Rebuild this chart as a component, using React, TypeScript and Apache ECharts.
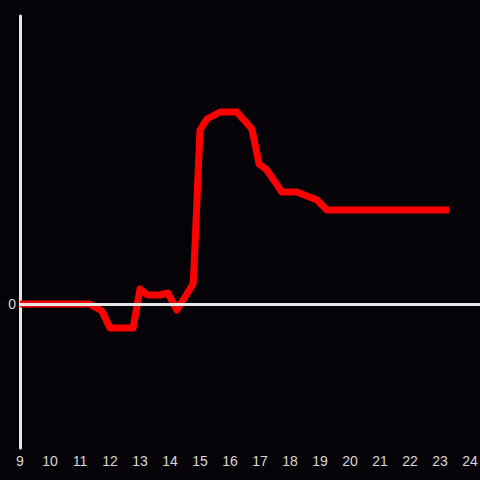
import React, { useEffect, useRef } from "react";
import * as echarts from "echarts";

const hours: number[] = [9, 11.33, 11.73, 12.0, 12.77, 13.0, 13.25, 13.67, 13.93, 14.23, 14.77, 14.8, 15.0, 15.23, 15.67, 16.23, 16.73, 16.97, 17.23, 17.73, 18.23, 18.9, 19.23, 23.3];
const values: number[] = [0, 0, -7, -24, -24, 15, 9, 9, 11, -6, 20, 36, 174, 185, 192, 192, 175, 140, 134, 112, 112, 104, 94, 94];
const xTickMin = 9;
const xTickMax = 24;

export default function App() {
  const ref = useRef<HTMLDivElement>(null);
  useEffect(() => {
    if (!ref.current) return;
    const chart = echarts.init(ref.current, null, { renderer: "svg" });
    chart.setOption({
      animation: false,
      backgroundColor: "#050307",
      grid: { left: 20, right: 0, top: 16, bottom: 32, outerBoundsMode: "none", containLabel: false },
      xAxis: {
        type: "value",
        min: xTickMin,
        max: xTickMax + 1 / 3,
        interval: 1,
        axisLine: { show: false },
        axisTick: { show: false },
        splitLine: { show: false },
        axisLabel: {
          color: "#d8d8d8",
          fontSize: 14,
          margin: 6,
          formatter: (v: number) => (Math.abs(v - Math.round(v)) < 1e-6 && v <= xTickMax ? String(Math.round(v)) : ""),
        },
      },
      yAxis: {
        type: "value",
        min: -144,
        max: 288,
        interval: 144,
        axisLine: { show: true, onZero: false, lineStyle: { color: "#e6e6e6", width: 3 } },
        axisTick: { show: false },
        splitLine: { show: false },
        axisLabel: {
          color: "#d8d8d8",
          fontSize: 14,
          margin: 4,
          formatter: (v: number) => (v === 0 ? "0" : ""),
        },
      },
      series: [
        {
          type: "line",
          z: 1,
          data: [],
          markLine: {
            silent: true,
            symbol: "none",
            label: { show: false },
            lineStyle: { color: "#e6e6e6", width: 3, type: "solid" },
            data: [{ yAxis: 0 }],
          },
        },
        {
          type: "line",
          z: 3,
          data: hours.map((h, i) => [h, values[i]]),
          showSymbol: false,
          lineStyle: { color: "#ff0000", width: 7, join: "round" },
          itemStyle: { color: "#ff0000" },
        },
      ],
    });
    return () => chart.dispose();
  }, []);
  return <div ref={ref} style={{ width: 480, height: 480, position: "absolute", left: 0, top: 0 }} />;
}
